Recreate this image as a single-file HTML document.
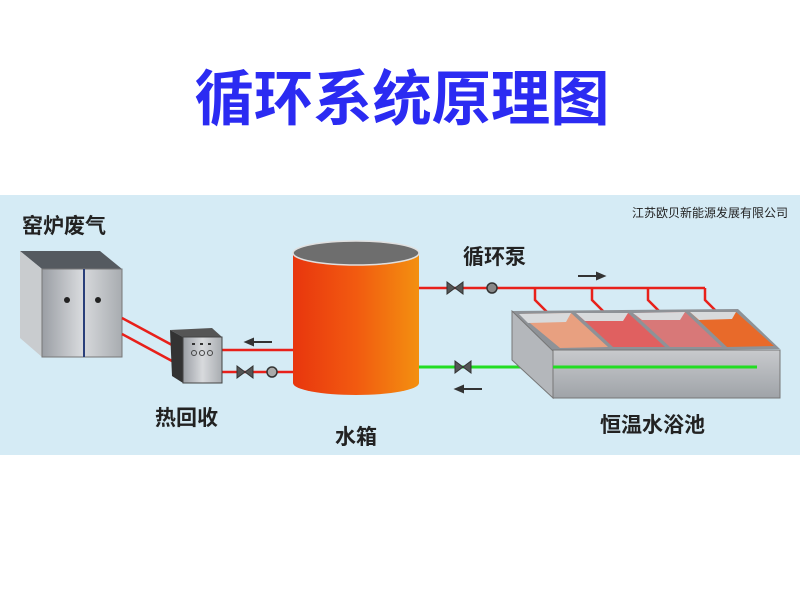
<!DOCTYPE html>
<html><head><meta charset="utf-8"><style>
body{margin:0;width:800px;height:600px;background:#fff;overflow:hidden;font-family:"Liberation Sans","Noto Sans CJK SC",sans-serif}
</style></head><body>
<svg width="800" height="600" xmlns="http://www.w3.org/2000/svg" style="position:absolute;left:0;top:0">
<defs>
<linearGradient id="tank" x1="0" x2="1"><stop offset="0" stop-color="#e8360e"/><stop offset="0.5" stop-color="#f25a10"/><stop offset="1" stop-color="#f39010"/></linearGradient>
<linearGradient id="metal" x1="0" x2="1"><stop offset="0" stop-color="#9a9ea4"/><stop offset="0.5" stop-color="#d8dadd"/><stop offset="1" stop-color="#a8acb0"/></linearGradient>
<linearGradient id="poolf" x1="0" x2="0" y1="0" y2="1"><stop offset="0" stop-color="#c8cacd"/><stop offset="1" stop-color="#9fa3a8"/></linearGradient>
</defs>
<text x="402" y="120" text-anchor="middle" font-size="60" font-weight="bold" fill="#2b2bf2" textLength="415" lengthAdjust="spacingAndGlyphs" font-family="'Noto Sans CJK SC',sans-serif">循环系统原理图</text>
<rect x="0" y="195" width="800" height="260" fill="#d5ebf5"/>
<text x="788" y="217" text-anchor="end" font-size="12" fill="#222">江苏欧贝新能源发展有限公司</text>
<g font-size="21" fill="#222" font-weight="bold" font-family="'Noto Sans CJK SC',sans-serif">
<text x="22" y="233">窑炉废气</text>
<text x="155" y="425">热回收</text>
<text x="335" y="444">水箱</text>
<text x="463" y="264">循环泵</text>
<text x="600" y="432">恒温水浴池</text>
</g>
<polygon points="20,251 100,251 122,269 42,269" fill="#555a60"/>
<polygon points="20,251 42,269 42,357 20,338" fill="#c9cccf"/>
<rect x="42" y="269" width="80" height="88" fill="url(#metal)" stroke="#777"/>
<line x1="84" y1="269" x2="84" y2="357" stroke="#2a3f7a" stroke-width="2"/>
<circle cx="67" cy="300" r="3" fill="#222"/><circle cx="98" cy="300" r="3" fill="#222"/>
<g stroke="#e8201a" stroke-width="2.5" fill="none">
<line x1="122" y1="318" x2="172" y2="345"/>
<line x1="122" y1="334" x2="172" y2="361"/>
<line x1="222" y1="350" x2="295" y2="350"/>
<line x1="222" y1="372" x2="295" y2="372"/>
<polyline points="418,288 705,288"/>
<polyline points="535,288 535,300 547,312"/>
<polyline points="592,288 592,300 604,312"/>
<polyline points="648,288 648,300 660,312"/>
<polyline points="705,288 705,300 717,312"/>
</g>
<line x1="418" y1="367" x2="757" y2="367" stroke="#22dd22" stroke-width="3"/>
<polygon points="170,330 212,328 222,337 183,337" fill="#555"/>
<polygon points="170,330 183,337 183,383 172,376" fill="#333"/>
<rect x="183" y="337" width="39" height="46" fill="url(#metal)" stroke="#444"/>
<g fill="#333"><rect x="192" y="343" width="3" height="2"/><rect x="200" y="343" width="3" height="2"/><rect x="208" y="343" width="3" height="2"/></g>
<g fill="none" stroke="#444"><circle cx="194" cy="353" r="2.5"/><circle cx="202" cy="353" r="2.5"/><circle cx="210" cy="353" r="2.5"/></g>
<g fill="#555" stroke="#333">
<polygon points="237,366 237,378 253,366 253,378"/>
<polygon points="447,282 447,294 463,282 463,294"/>
<polygon points="455,361 455,373 471,361 471,373"/>
</g>
<circle cx="272" cy="372" r="5" fill="#aaa" stroke="#333" stroke-width="1.5"/>
<circle cx="492" cy="288" r="5" fill="#888" stroke="#333" stroke-width="1.5"/>
<g stroke="#333" stroke-width="2" fill="#333">
<line x1="252" y1="342" x2="272" y2="342"/><polygon points="246,342 253,339 253,345"/>
<line x1="578" y1="276" x2="598" y2="276"/><polygon points="604,276 597,273 597,279"/>
<line x1="462" y1="389" x2="482" y2="389"/><polygon points="456,389 463,386 463,392"/>
</g>
<path d="M293,253 L293,383 A63,12 0 0 0 419,383 L419,253 Z" fill="url(#tank)"/>
<ellipse cx="356" cy="253" rx="63" ry="12" fill="#6e6e6e" stroke="#e0e0e0" stroke-width="1.5"/>
<polygon points="512,311 738,309 780,349 553,351" fill="#8e9297"/>
<polygon points="519,314 571,313 608,347 560,348" fill="#e8a080"/>
<polygon points="576,313 628,313 665,347 613,347" fill="#e06060"/>
<polygon points="633,313 685,312 722,347 670,347" fill="#d87878"/>
<polygon points="690,312 736,312 774,346 727,347" fill="#e86a2a"/>
<g fill="#d8dadc"><polygon points="519,314 571,313 566,322 528,323"/><polygon points="576,313 628,313 623,321 585,321"/><polygon points="633,313 685,312 680,320 642,320"/><polygon points="690,312 736,312 732,319 699,320"/></g>
<polygon points="512,311 553,351 553,398 512,360" fill="#b4b7bb" stroke="#777"/>
<rect x="553" y="350" width="227" height="48" fill="url(#poolf)" stroke="#777"/>
<line x1="553" y1="367" x2="757" y2="367" stroke="#22dd22" stroke-width="3"/>
</svg>
</body></html>
